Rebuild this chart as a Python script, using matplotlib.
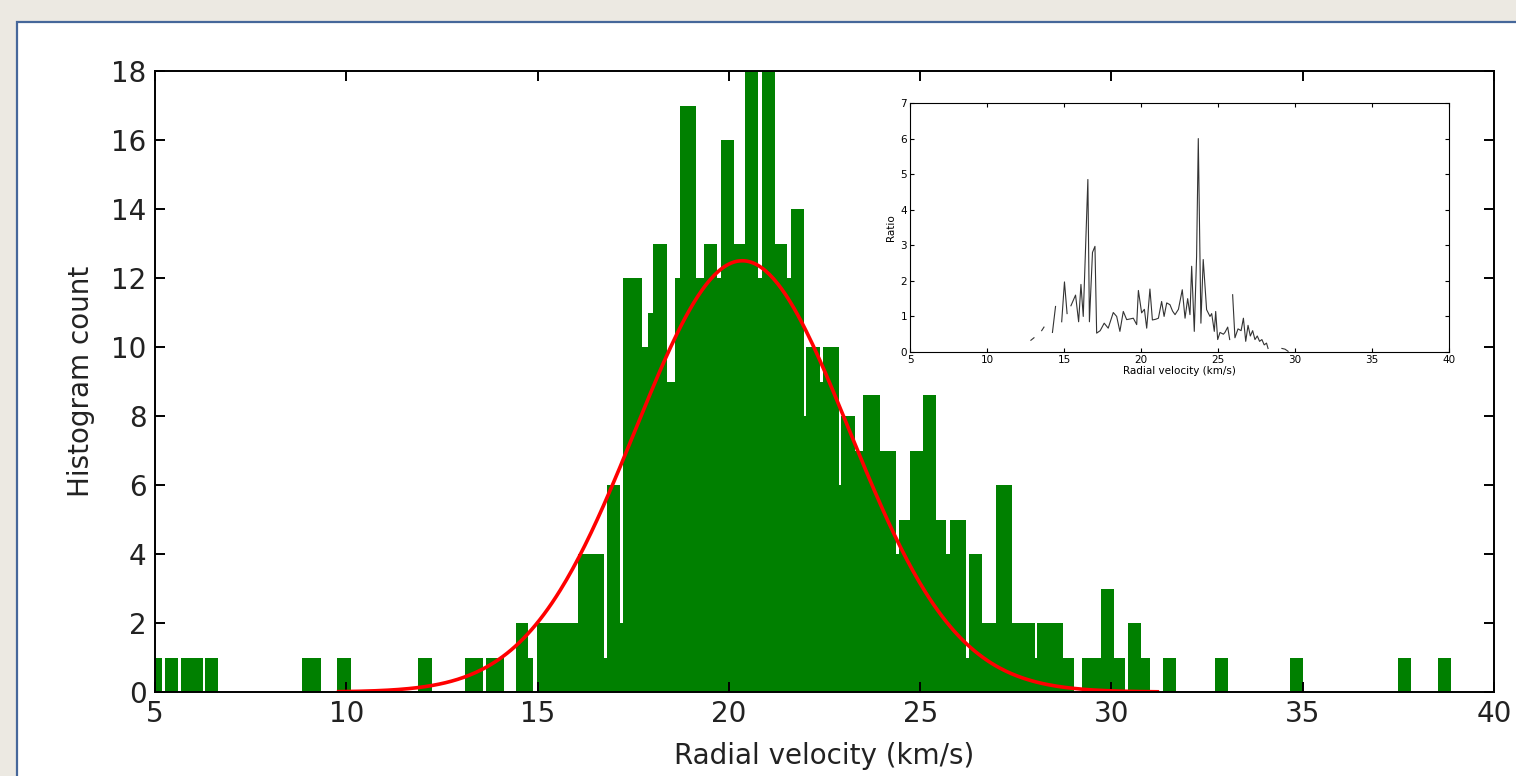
import matplotlib
matplotlib.use("Agg")
import matplotlib.pyplot as plt
import numpy as np
from matplotlib.patches import Rectangle

# histogram outline: bin edges (km/s) and heights
edges = [5.00, 5.175, 5.261, 5.609, 5.672, 6.246, 6.307, 6.654, 8.849, 9.330,
         9.763, 10.114, 11.880, 12.230, 13.100, 13.578, 13.649, 14.119, 14.425, 14.754,
         14.885, 14.974, 16.045, 16.740, 16.803, 17.151, 17.237, 17.733, 17.874, 18.021,
         18.371, 18.588, 18.718, 19.136, 19.353, 19.693, 19.790, 20.137, 20.417, 20.764,
         20.869, 21.201, 21.522, 21.619, 21.958, 22.029, 22.376, 22.463, 22.881, 22.944,
         23.291, 23.508, 23.944, 24.362, 24.448, 24.728, 25.076, 25.426, 25.687, 25.792,
         26.192, 26.278, 26.628, 26.976, 27.394, 27.995, 28.055, 28.734, 29.021, 29.241,
         29.737, 30.067, 30.346, 30.433, 30.783, 31.000, 31.347, 31.697, 32.698, 33.045,
         34.676, 35.005, 37.487, 37.837, 38.533, 38.882]
counts = [1, 0, 1, 0, 1, 0, 1, 0, 1, 0,
          1, 0, 1, 0, 1, 0, 1, 0, 2, 1,
          0, 2, 4, 1, 6, 2, 12, 10, 11, 13,
          9, 12, 17, 12, 13, 12, 16, 13, 18, 12,
          18, 13, 12, 14, 8, 10, 9, 10, 6, 8,
          7, 8.6, 7, 4, 5, 7, 8.6, 5, 4, 5,
          1, 4, 2, 6, 2, 1, 2, 1, 0, 1,
          3, 1, 0, 2, 1, 0, 1, 0, 1, 0,
          1, 0, 1, 0, 1]

# gaussian fit parameters
fit_amp = 12.5
fit_mu = 20.35
fit_sigma = 2.8
fit_range = (9.8, 31.2)

# inset: ratio vs radial velocity (nan = gap)
ratio_v = [12.85, 13.05, np.nan, 13.55, 13.70, np.nan, 14.25, 14.45, np.nan,
           14.85, 15.03, 15.20, np.nan,
           15.45, 15.75, 15.95, 16.10, 16.25, 16.55, 16.65, 16.85, 17.01, 17.12,
           17.35, 17.61, 17.87, 18.20, 18.42, 18.63, 18.85, 19.07, 19.30, 19.50,
           19.72, 19.83, 20.04, 20.22, 20.37, 20.58, 20.74, 20.95, 21.13, 21.34,
           21.50, 21.67, 21.88, 22.05, 22.21, 22.43, 22.68, 22.86, 23.03, 23.18,
           23.29, 23.46, 23.61, 23.72, 23.89, 24.04, 24.26, 24.48, 24.59, 24.76,
           24.85, 24.98, 25.13, 25.35, 25.45, 25.63, 25.76, np.nan,
           25.95, 26.10, 26.30, 26.50, 26.65, 26.80, 26.95, 27.10, 27.25, 27.40,
           27.55, 27.70, 27.85, 28.00, 28.15, 28.25, np.nan,
           29.15, 29.35, 29.55]
ratio = [0.33, 0.40, np.nan, 0.60, 0.70, np.nan, 0.55, 1.28, np.nan,
         0.85, 1.97, 1.08, np.nan,
         1.30, 1.60, 0.85, 1.90, 1.00, 4.85, 0.85, 2.80, 2.97, 0.53,
         0.60, 0.81, 0.67, 1.11, 1.00, 0.58, 1.14, 0.91, 0.93, 0.95,
         0.77, 1.73, 1.10, 1.20, 0.67, 1.77, 0.90, 0.92, 0.95, 1.42,
         1.00, 1.38, 1.33, 1.15, 1.05, 1.20, 1.75, 0.95, 1.50, 1.05,
         2.41, 0.58, 2.69, 6.00, 0.81, 2.60, 1.19, 1.00, 1.08, 0.58,
         1.14, 0.35, 0.55, 0.50, 0.55, 0.70, 0.35, np.nan,
         1.61, 0.40, 0.65, 0.60, 0.95, 0.30, 0.75, 0.45, 0.60, 0.35,
         0.45, 0.30, 0.35, 0.20, 0.25, 0.10, np.nan,
         0.10, 0.08, 0.02]

W, H = 1516, 776
fig = plt.figure(figsize=(W / 100, H / 100), dpi=100)
fig.patch.set_facecolor('#ece9e2')
panel = Rectangle((17 / W, -0.1), 1.2, (H - 22) / H + 0.1,
                  transform=fig.transFigure, facecolor='white',
                  edgecolor='#46679a', linewidth=1.6, zorder=-10)
fig.add_artist(panel)

ax = fig.add_axes([155 / W, 1 - 692 / H, (1494 - 155) / W, (692 - 71) / H])
ax.patch.set_alpha(0)
ax.stairs(counts, edges, fill=True, color='green', linewidth=0)
xs = np.linspace(fit_range[0], fit_range[1], 400)
ax.plot(xs, fit_amp * np.exp(-(xs - fit_mu) ** 2 / (2 * fit_sigma ** 2)),
        color='red', lw=2.6)
ax.set_xlim(5, 40)
ax.set_ylim(0, 18)
ax.set_xticks(range(5, 41, 5))
ax.set_yticks(range(0, 19, 2))
ax.tick_params(direction='in', top=True, right=True, length=7, width=1.4,
               labelsize=20, pad=6, labelcolor='#222222')
for s in ax.spines.values():
    s.set_linewidth(1.4)
ax.set_xlabel('Radial velocity (km/s)', fontsize=20, labelpad=10, color='#222222')
ax.set_ylabel('Histogram count', fontsize=20, labelpad=12, color='#222222')

ins = fig.add_axes([910 / W, 1 - 352 / H, (1449 - 910) / W, (352 - 103) / H])
ins.plot(ratio_v, ratio, color='#333333', lw=0.8)
ins.set_xlim(5, 40)
ins.set_ylim(0, 7)
ins.set_xticks(range(5, 41, 5))
ins.set_yticks(range(0, 8))
ins.tick_params(direction='in', top=True, right=True, length=3, width=0.8,
                labelsize=7.5, pad=2)
for s in ins.spines.values():
    s.set_linewidth(0.8)
ins.set_xlabel('Radial velocity (km/s)', fontsize=7.5, labelpad=1)
ins.set_ylabel('Ratio', fontsize=7.5, labelpad=3)

fig.savefig('out.png', dpi=100, facecolor=fig.get_facecolor())
